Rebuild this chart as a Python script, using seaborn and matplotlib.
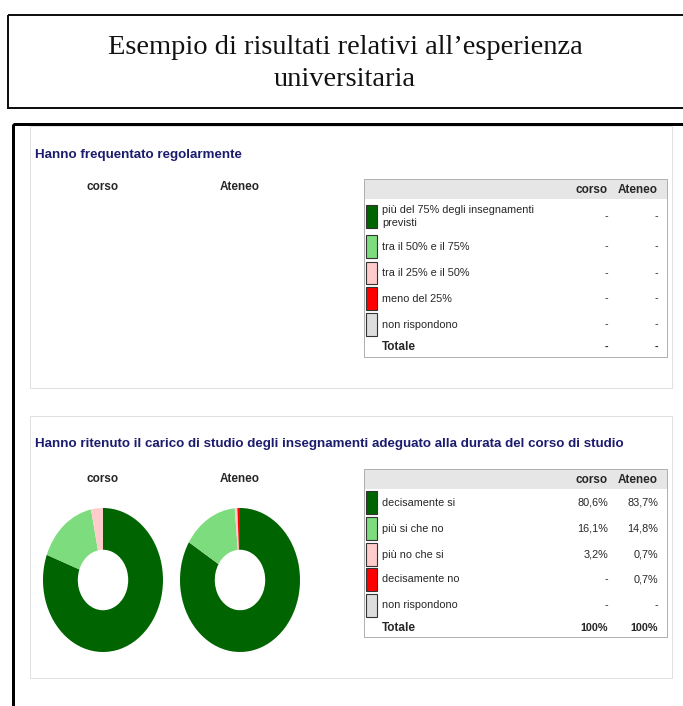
import seaborn as sns
import matplotlib.pyplot as plt
import matplotlib.patches as mpatches
from matplotlib import font_manager

# data
title_lines = ["Esempio di risultati relativi all\u2019esperienza", "universitaria"]
panel_titles = ["Hanno frequentato regolarmente",
                "Hanno ritenuto il carico di studio degli insegnamenti adeguato alla durata del corso di studio"]
columns = ["corso", "Ateneo"]

cat_freq = ["più del 75% degli insegnamenti\nprevisti", "tra il 50% e il 75%",
            "tra il 25% e il 50%", "meno del 25%", "non rispondono"]
freq_corso = [0, 0, 0, 0, 0]
freq_ateneo = [0, 0, 0, 0, 0]

cat_carico = ["decisamente si", "più si che no", "più no che si", "decisamente no", "non rispondono"]
carico_corso = [80.6, 16.1, 3.2, 0, 0]
carico_ateneo = [83.7, 14.8, 0.7, 0.7, 0]

colors = sns.color_palette(["#006400", "#7ddc7d", "#ffcccc", "#ff0000", "#dddddd"])

sns.set_theme(style="white")

# pick a narrow sans if there is one
try:
    font_manager.findfont("Liberation Sans Narrow", fallback_to_default=False)
    sans = "Liberation Sans Narrow"
    k = 1.0
except Exception:
    sans = "Liberation Sans"
    k = 0.82
plt.rcParams['font.family'] = [sans, 'DejaVu Sans']

W, H = 683, 706
fig = plt.figure(figsize=(W / 100, H / 100), dpi=100)
bg = fig.add_axes([0, 0, 1, 1])
bg.set_xlim(0, W)
bg.set_ylim(H, 0)
bg.axis('off')

px = 72 / 100  # one pixel in points

# title box
bg.add_patch(mpatches.Rectangle((8, 15), 700, 93, fill=False, ec='#111111', lw=2 * px))
bg.text(345, 47, title_lines[0], ha='center', va='center', fontsize=20.5,
        family='Liberation Serif', color='#111111')
bg.text(345, 80, title_lines[1], ha='center', va='center', fontsize=20.5,
        family='Liberation Serif', color='#111111')

# outer frame of the slide
bg.add_patch(mpatches.Rectangle((12.5, 123.5), 720, 640, fill=False, ec='black', lw=3 * px))

fs_txt = 9.6 * k
fs_head = 10.3 * k


def fmt(v):
    if v == 0:
        return "-"
    return ("%.1f%%" % v).replace(".", ",")


def draw_table(top, row_tops, row_h, cats, vals_c, vals_a, total_c, total_a, tot_y, bottom):
    bg.add_patch(mpatches.Rectangle((364, top), 303, bottom - top, fc='white', ec='#b0b0b0', lw=1 * px))
    bg.add_patch(mpatches.Rectangle((364.5, top + 0.5), 302, 19, fc='#e6e6e6', ec='none'))
    bg.text(608, top + 11, columns[0], ha='right', va='center', fontsize=fs_head, weight='bold')
    bg.text(658, top + 11, columns[1], ha='right', va='center', fontsize=fs_head, weight='bold')
    for i, cat in enumerate(cats):
        y0 = row_tops[i]
        h = row_h[i]
        bg.add_patch(mpatches.Rectangle((366, y0), 11, h, fc=colors[i], ec='#333333', lw=0.8))
        yc = y0 + h / 2
        bg.text(382, yc, cat, ha='left', va='center', fontsize=fs_txt, linespacing=1.3)
        bg.text(608, yc, fmt(vals_c[i]), ha='right', va='center', fontsize=fs_txt)
        bg.text(658, yc, fmt(vals_a[i]), ha='right', va='center', fontsize=fs_txt)
    bg.text(382, tot_y, "Totale", ha='left', va='center', fontsize=fs_head, weight='bold')
    bg.text(608, tot_y, total_c, ha='right', va='center', fontsize=fs_txt, weight='bold')
    bg.text(658, tot_y, total_a, ha='right', va='center', fontsize=fs_txt, weight='bold')


# panel 1
bg.add_patch(mpatches.Rectangle((30, 126), 642, 262, fc='white', ec='#e0e0e0', lw=1 * px))
bg.text(35, 155, panel_titles[0], ha='left', va='center', fontsize=11.7 * k,
        weight='bold', color='#1c1c6e')
bg.text(103, 187, columns[0], ha='center', va='center', fontsize=fs_head, weight='bold')
bg.text(240, 187, columns[1], ha='center', va='center', fontsize=fs_head, weight='bold')
draw_table(179, [205, 235, 262, 287, 313], [23, 23, 22, 23, 23], cat_freq,
           freq_corso, freq_ateneo, "-", "-", 347, 357)

# panel 2
bg.add_patch(mpatches.Rectangle((30, 416), 642, 262, fc='white', ec='#e0e0e0', lw=1 * px))
bg.text(35, 444, panel_titles[1], ha='left', va='center', fontsize=11.7 * k,
        weight='bold', color='#1c1c6e')
bg.text(103, 479, columns[0], ha='center', va='center', fontsize=fs_head, weight='bold')
bg.text(240, 479, columns[1], ha='center', va='center', fontsize=fs_head, weight='bold')
draw_table(469, [491, 517, 543, 568, 594], [23, 23, 23, 23, 23], cat_carico,
           carico_corso, carico_ateneo, "100%", "100%", 628, 637)

# donuts
for cx, vals in [(103, carico_corso), (240, carico_ateneo)]:
    rx, ry = 60, 72
    ax = fig.add_axes([(cx - rx) / W, (H - (580 + ry)) / H, 2 * rx / W, 2 * ry / H])
    ax.pie(vals, colors=colors, startangle=90, counterclock=False,
           wedgeprops=dict(width=0.58, linewidth=0))
    ax.set_aspect('auto')
    ax.set_xlim(-1, 1)
    ax.set_ylim(-1, 1)
    ax.axis('off')

fig.savefig("out.png", dpi=100)
